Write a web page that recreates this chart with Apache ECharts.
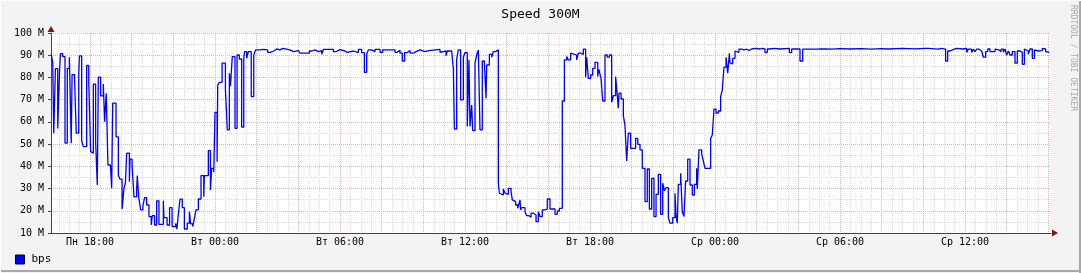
<!DOCTYPE html>
<html>
<head>
<meta charset="utf-8">
<script src="https://cdn.jsdelivr.net/npm/echarts@6/dist/echarts.min.js"></script>
<style>
html,body{margin:0;padding:0;background:#f3f3f3;}
#c{width:1081px;height:273px;}
</style>
</head>
<body>
<div id="c"></div>
<script>
// Time in hours since Monday 00:00 (start of each step), speed in Mbit/s
var times = [
16.14,16.21,16.26,16.34,16.45,16.54,16.58,16.69,16.80,16.91,17.01,17.10,17.14,17.26,17.34,17.46,17.49,17.60,17.68,17.84,17.94,
18.03,18.11,18.16,18.27,18.35,18.40,18.51,18.64,18.70,18.78,18.86,18.98,19.04,19.09,19.25,19.36,19.44,19.54,19.63,19.70,19.76,19.89,19.92,
20.02,20.11,20.24,20.27,20.34,20.43,20.54,20.62,20.72,20.83,20.94,20.99,21.10,21.20,21.31,21.52,21.55,21.70,21.82,21.94,22.11,22.17,
22.24,22.32,22.43,22.53,22.67,22.77,22.83,22.93,23.01,23.09,23.20,23.33,23.46,23.49,23.68,23.78,23.84,23.94,
24.00,24.10,24.13,24.21,24.34,24.50,24.59,24.69,24.74,24.83,24.96,25.06,25.17,25.28,25.38,25.42,25.52,25.60,25.74,25.86,25.95,
26.16,26.27,26.53,26.66,26.82,26.96,27.12,27.25,27.60,27.76,27.84,28.00,
28.08,28.53,28.64,28.80,28.96,29.12,29.20,29.68,29.81,30.00,30.24,30.35,30.64,30.72,30.88,31.04,31.17,31.28,31.36,31.52,31.68,31.92,
32.05,32.64,32.75,32.88,32.99,33.10,33.23,33.36,33.52,33.65,33.84,
34.08,34.27,34.56,34.80,34.88,35.09,35.15,35.36,35.44,35.49,35.60,35.68,35.79,35.92,36.00,36.11,36.19,36.24,36.32,36.37,36.48,36.56,
36.64,36.72,36.83,36.93,37.01,37.04,37.17,37.28,37.36,37.47,37.60,37.65,37.73,37.84,37.92,38.00,38.08,38.21,38.27,38.34,38.43,38.53,
38.61,38.64,38.67,38.72,38.88,38.96,39.07,39.17,39.28,39.41,39.52,39.60,39.71,39.84,39.95,
40.08,40.32,40.43,40.53,40.67,40.77,40.88,40.96,41.07,41.12,41.36,41.44,41.57,41.68,41.79,41.84,41.92,42.03,42.13,42.24,42.37,42.42,
42.45,42.53,42.61,42.72,42.83,42.93,43.04,43.12,43.23,43.31,43.36,43.39,43.49,43.60,43.68,43.76,43.84,43.95,44.19,44.29,44.40,44.51,
44.64,44.75,44.85,44.96,45.07,45.17,45.28,45.39,45.49,45.57,45.65,45.76,45.84,45.97,
46.08,46.13,46.19,46.24,46.35,46.43,46.51,46.59,46.69,46.80,46.91,47.01,47.12,47.15,47.23,47.36,47.44,47.52,47.79,47.87,47.95,
48.05,48.16,48.27,48.35,48.43,48.53,48.61,48.69,48.72,48.75,48.85,48.96,49.04,49.15,49.28,49.39,49.52,49.63,49.76,49.92,
50.16,50.27,50.40,50.51,50.64,50.85,51.12,51.57,51.68,52.08,52.21,52.48,52.56,53.00,53.30,53.60,54.00,54.50,55.00,55.50,56.00,56.30,
57.00,57.60,58.08,58.24,58.72,58.85,59.07,59.17,59.28,59.49,59.60,59.92,60.08,60.16,60.32,60.40,60.48,60.56,60.67,60.80,60.88,60.99,
61.09,61.20,61.44,61.52,61.63,61.73,61.84,61.92,62.00,62.08,62.16,62.27,62.40,62.51,62.64,62.75,62.85,62.93,63.04,63.12,63.23,63.33,
63.41,63.52,63.60,63.71,63.79,63.87,63.92,64.05
];
var speeds = [
90.4,86.8,54.9,84.0,57.0,83.4,90.7,89.4,50.4,84.1,89.1,50.4,81.3,78.9,54.9,82.0,89.7,51.5,48.9,85.4,78.1,
46.6,45.9,77.0,51.1,31.6,80.1,71.7,77.0,60.1,72.9,40.6,41.4,30.1,68.4,53.3,36.1,34.2,20.8,30.1,32.6,45.9,33.1,43.2,
40.6,26.3,29.7,35.8,25.9,20.4,22.2,25.9,22.6,17.4,13.6,17.8,13.6,24.5,13.9,24.5,16.9,13.6,21.4,12.9,14.3,11.8,
18.4,25.2,21.4,11.8,14.4,19.6,14.1,12.9,16.6,20.4,25.3,35.8,26.3,35.8,47.1,29.4,39.1,37.3,
64.3,42.1,76.6,77.8,86.4,74.4,56.4,81.9,76.1,89.4,57.1,90.1,88.3,57.6,88.6,91.6,88.6,91.6,71.4,90.1,92.4,
92.6,92.4,91.3,91.9,92.8,92.4,93.1,92.4,91.6,91.2,92.1,92.6,
90.9,91.9,92.4,91.6,92.1,90.4,92.6,91.6,92.5,91.9,91.3,91.9,92.4,91.2,92.6,91.2,82.3,90.4,92.4,91.6,92.6,91.3,
92.4,91.3,92.2,90.9,87.4,91.2,92.1,90.9,91.6,92.4,91.6,
92.1,92.4,92.6,91.3,91.9,89.8,91.9,92.4,84.1,56.8,88.2,92.4,69.9,89.1,91.2,57.9,87.9,57.9,67.6,56.1,86.4,90.1,
92.4,56.4,87.4,86.4,70.6,85.6,90.4,89.1,91.6,92.4,32.4,27.9,27.1,29.8,27.9,27.4,30.1,28.6,24.9,24.1,22.6,21.1,
20.4,24.9,20.4,21.4,19.6,17.8,17.1,18.9,18.1,15.1,19.6,17.4,20.4,20.8,25.3,
20.8,18.4,19.9,21.1,69.4,87.9,89.4,87.9,90.9,90.1,87.9,90.9,90.4,92.7,80.1,89.1,79.6,81.1,84.1,86.8,80.4,83.7,
82.6,79.6,69.4,90.1,89.1,90.1,68.8,71.8,80.4,72.1,66.1,72.9,70.3,62.8,58.3,42.4,54.9,48.1,52.6,49.9,47.4,39.1,
24.1,38.8,20.8,34.6,17.4,27.4,36.4,18.4,32.4,29.1,30.4,16.9,14.4,16.9,
27.9,17.8,14.4,31.9,36.9,19.6,17.4,33.4,43.2,31.6,27.1,31.9,39.1,29.8,47.4,45.6,42.4,39.1,52.6,54.1,65.7,
63.9,64.9,71.4,74.4,84.6,89.1,81.9,90.9,86.5,86.1,88.6,91.9,91.3,92.7,92.4,92.7,92.1,92.8,93.1,92.8,
93.1,92.8,91.2,92.8,93.1,92.8,93.1,91.2,92.8,87.4,92.7,93.1,92.8,92.9,92.7,93.0,92.8,93.0,92.7,93.0,92.8,93.1,
92.9,93.1,93.1,92.7,93.1,92.7,87.4,91.9,92.7,93.1,92.8,93.1,91.3,92.7,91.2,92.7,91.6,92.7,91.9,92.4,89.1,91.6,
92.8,91.6,92.7,92.4,91.6,92.7,91.3,92.8,90.1,91.9,90.1,91.6,86.4,91.9,91.3,85.9,92.8,91.9,90.4,92.8,88.6,92.4,
91.9,92.8,92.1,93.1,92.8,91.6,91.3,91.3
];
var xTickValues = [18, 24, 30, 36, 42, 48, 54, 60];
var xTickLabels = ['Пн 18:00','Вт 00:00','Вт 06:00','Вт 12:00','Вт 18:00','Ср 00:00','Ср 06:00','Ср 12:00'];
var yTickValues = [10,20,30,40,50,60,70,80,90,100];
var yTickLabels = ['10 M','20 M','30 M','40 M','50 M','60 M','70 M','80 M','90 M','100 M'];
var titleText = 'Speed 300M';
var seriesName = 'bps';
var sideText = 'RRDTOOL / TOBI OETIKER';

var xMin = 16.128, xMax = 64.128;
var majorGrid = [], minorGrid = [];
for (var h = 16; h <= 64; h += 0.5) {
  if (h < xMin || h > xMax) continue;
  if (h % 2 === 0) majorGrid.push(h); else minorGrid.push(h);
}

var data = times.map(function (t, i) { return [t, speeds[i]]; });
var mono = 'DejaVu Sans Mono';
var greyDot = '#dcdcdc', redDot = '#f0acac';

var chart = echarts.init(document.getElementById('c'), null, {renderer: 'canvas'});
chart.setOption({
  animation: false,
  backgroundColor: '#f3f3f3',
  grid: {left: 51, right: 30, top: 33, bottom: 40, show: true, backgroundColor: '#ffffff', borderWidth: 0},
  title: {text: titleText, left: 'center', top: 3, textStyle: {fontFamily: mono, fontSize: 13, fontWeight: 'normal', color: '#000'}},
  legend: {show: true, left: 15, top: 254, padding: 0, itemWidth: 9, itemHeight: 9, itemGap: 6, icon: 'rect',
    textStyle: {fontFamily: mono, fontSize: 11, color: '#000', padding: [0, 0, 0, 2]},
    data: [{name: seriesName, itemStyle: {color: '#0000ff', borderColor: '#000', borderWidth: 1}}]},
  xAxis: [
    {type: 'value', position: 'bottom', min: xMin, max: xMax, z: 1,
     axisLine: {show: false}, axisTick: {show: false, customValues: minorGrid}, axisLabel: {show: false, customValues: minorGrid},
     splitLine: {show: true, lineStyle: {color: greyDot, type: 'dotted', width: 1}}},
    {type: 'value', position: 'bottom', min: xMin, max: xMax, z: 2,
     axisLine: {show: false}, axisTick: {show: false, customValues: majorGrid}, axisLabel: {show: false, customValues: majorGrid},
     splitLine: {show: true, lineStyle: {color: redDot, type: 'dotted', width: 1}}},
    {type: 'value', position: 'bottom', min: xMin, max: xMax, z: 3,
     axisLine: {show: true, onZero: false, lineStyle: {color: '#504040', width: 1}},
     axisTick: {show: false, customValues: xTickValues},
     axisLabel: {customValues: xTickValues, margin: 4, fontFamily: mono, fontSize: 10, color: '#000',
       formatter: function (v) { var i = xTickValues.indexOf(v); return i >= 0 ? xTickLabels[i] : ''; }},
     splitLine: {show: false}}
  ],
  yAxis: {type: 'value', min: 10, max: 100, interval: 10,
    axisLine: {show: true, lineStyle: {color: '#504040', width: 1}},
    axisTick: {show: true, length: 3, lineStyle: {color: '#504040'}},
    axisLabel: {margin: 7, fontFamily: mono, fontSize: 10, color: '#000',
      formatter: function (v) { var i = yTickValues.indexOf(v); return i >= 0 ? yTickLabels[i] : ''; }},
    splitLine: {show: true, lineStyle: {color: redDot, type: 'dotted', width: 1}},
    minorTick: {show: false, splitNumber: 2},
    minorSplitLine: {show: true, lineStyle: {color: greyDot, type: 'dotted', width: 1}}},
  series: [{
    name: seriesName, type: 'line', xAxisIndex: 2, step: 'end', data: data,
    showSymbol: false, symbol: 'none', z: 5,
    lineStyle: {color: '#0000ff', width: 1.3}, itemStyle: {color: '#0000ff'}
  }]
});

var o = chart.convertToPixel({xAxisIndex: 2, yAxisIndex: 0}, [xMin, 10]);
var e = chart.convertToPixel({xAxisIndex: 2, yAxisIndex: 0}, [xMax, 100]);
var x0 = Math.round(o[0]), y0 = Math.round(o[1]), x1 = Math.round(e[0]), y1 = Math.round(e[1]);
chart.setOption({
  graphic: [
    {type: 'polygon', z: 10, shape: {points: [[x0 - 3.5, y1 - 1], [x0 + 3.5, y1 - 1], [x0, y1 - 7]]}, style: {fill: '#8b1010'}},
    {type: 'polygon', z: 10, shape: {points: [[x1 + 1, y0 - 3.5], [x1 + 1, y0 + 3.5], [x1 + 7, y0]]}, style: {fill: '#8b1010'}},
    {type: 'text', z: 10, x: 1077, y: 5, rotation: -Math.PI / 2,
     style: {text: sideText, fontFamily: mono, fontSize: 8, fill: '#a8a8a8', textVerticalAlign: 'top'}},
    {type: 'line', z: 10, shape: {x1: 0, y1: 271, x2: 1081, y2: 271}, style: {stroke: '#a8a8a8', lineWidth: 2}},
    {type: 'line', z: 10, shape: {x1: 1080, y1: 0, x2: 1080, y2: 273}, style: {stroke: '#a8a8a8', lineWidth: 2}},
    {type: 'line', z: 10, shape: {x1: 0, y1: 0.5, x2: 1081, y2: 0.5}, style: {stroke: '#ffffff', lineWidth: 1}},
    {type: 'line', z: 10, shape: {x1: 0.5, y1: 0, x2: 0.5, y2: 273}, style: {stroke: '#ffffff', lineWidth: 1}}
  ]
});
</script>
</body>
</html>
